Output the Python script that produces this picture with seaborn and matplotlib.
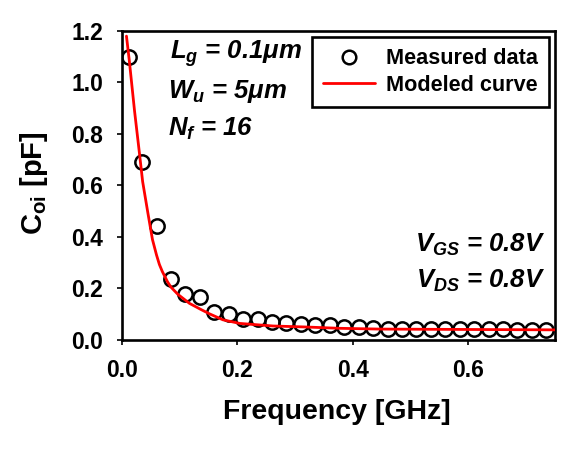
import matplotlib
matplotlib.use("Agg")
import matplotlib.pyplot as plt
import numpy as np
import pandas as pd
import seaborn as sns

# measured points (GHz, pF)
freq_meas = [0.012, 0.035, 0.060, 0.085, 0.110, 0.135, 0.160, 0.185, 0.210, 0.235,
             0.260, 0.285, 0.310, 0.335, 0.360, 0.385, 0.410, 0.435, 0.460, 0.485,
             0.510, 0.535, 0.560, 0.585, 0.610, 0.635, 0.660, 0.685, 0.710, 0.735]
coi_meas = [1.099, 0.691, 0.442, 0.237, 0.177, 0.168, 0.110, 0.101, 0.080, 0.080,
            0.071, 0.067, 0.060, 0.057, 0.057, 0.051, 0.050, 0.045, 0.044, 0.043,
            0.043, 0.042, 0.042, 0.042, 0.041, 0.041, 0.041, 0.040, 0.040, 0.040]

# modeled curve
freq_model = [0.008, 0.013, 0.022, 0.030, 0.036, 0.045, 0.053, 0.060, 0.065, 0.070,
              0.079, 0.085, 0.097, 0.117, 0.137, 0.152, 0.175, 0.204, 0.262, 0.320,
              0.377, 0.447, 0.550, 0.650, 0.750]
coi_model = [1.180, 1.083, 0.889, 0.734, 0.615, 0.494, 0.390, 0.330, 0.293, 0.266,
             0.226, 0.205, 0.177, 0.142, 0.118, 0.101, 0.078, 0.064, 0.054, 0.050,
             0.045, 0.042, 0.041, 0.040, 0.039]

x_ticks = [0.0, 0.2, 0.4, 0.6]
y_ticks = [0.0, 0.2, 0.4, 0.6, 0.8, 1.0, 1.2]

sns.set_theme(style="white")
plt.rcParams["font.family"] = ["Liberation Sans", "DejaVu Sans"]
plt.rcParams["font.weight"] = "bold"
plt.rcParams["mathtext.fontset"] = "custom"
plt.rcParams["mathtext.rm"] = "Liberation Sans:bold"
plt.rcParams["mathtext.it"] = "Liberation Sans:italic:bold"
plt.rcParams["mathtext.bf"] = "Liberation Sans:bold"
for key in ["text.color", "axes.labelcolor", "xtick.color", "ytick.color", "axes.edgecolor"]:
    plt.rcParams[key] = "black"

meas = pd.DataFrame({"freq": freq_meas, "coi": coi_meas})
model = pd.DataFrame({"freq": freq_model, "coi": coi_model})

fig, ax = plt.subplots(figsize=(5.83, 4.49), dpi=100)
fig.subplots_adjust(left=0.209, right=0.952, top=0.931, bottom=0.243)

sns.lineplot(data=meas, x="freq", y="coi", ax=ax, marker="o", linestyle="",
             markersize=10.3, markerfacecolor="none", markeredgecolor="black",
             markeredgewidth=1.8, label="Measured data", zorder=2)
sns.lineplot(data=model, x="freq", y="coi", ax=ax, color="red", linewidth=2.0,
             label="Modeled curve", zorder=3)

ax.set_xlim(0, 0.75)
ax.set_ylim(0, 1.2)
ax.set_xticks(x_ticks)
ax.set_yticks(y_ticks)
ax.xaxis.set_major_formatter(matplotlib.ticker.FormatStrFormatter("%.1f"))
ax.yaxis.set_major_formatter(matplotlib.ticker.FormatStrFormatter("%.1f"))
ax.tick_params(axis="both", which="major", direction="out", length=3.5, width=1.2,
               color="black", labelcolor="black", labelsize=16.5, pad=10,
               bottom=True, left=True)
for lab in ax.get_xticklabels() + ax.get_yticklabels():
    lab.set_fontweight("bold")
for spine in ax.spines.values():
    spine.set_color("black")
    spine.set_linewidth(1.9)

ax.set_xlabel("Frequency [GHz]", fontsize=20.5, fontweight="bold", color="black")
ax.set_ylabel(r"C$_{\mathrm{oi}}$ [pF]", fontsize=21, fontweight="bold", color="black")
ax.xaxis.set_label_coords(0.496, -0.19)
ax.yaxis.set_label_coords(-0.165, 0.508)

leg = ax.legend(loc="upper right", fontsize=15.6, frameon=True, fancybox=False,
                framealpha=1, edgecolor="black", borderaxespad=0.3,
                handlelength=2.4, handletextpad=0.5, borderpad=0.5,
                labelspacing=0.25, markerscale=0.95)
leg.get_frame().set_linewidth(1.9)
for t in leg.get_texts():
    t.set_fontweight("bold")
    t.set_color("black")

note = dict(fontsize=18.5, fontweight="bold", fontstyle="italic", va="baseline",
            color="black")
ax.text(0.084, 1.092, r"$L_g$ = 0.1$\mu$m", ha="left", **note)
ax.text(0.080, 0.940, r"$W_u$ = 5$\mu$m", ha="left", **note)
ax.text(0.080, 0.791, r"$N_f$ = 16", ha="left", **note)
ax.text(0.733, 0.341, r"$V_{GS}$ = 0.8V", ha="right", **note)
ax.text(0.733, 0.203, r"$V_{DS}$ = 0.8V", ha="right", **note)

fig.savefig("out.png", dpi=100)
